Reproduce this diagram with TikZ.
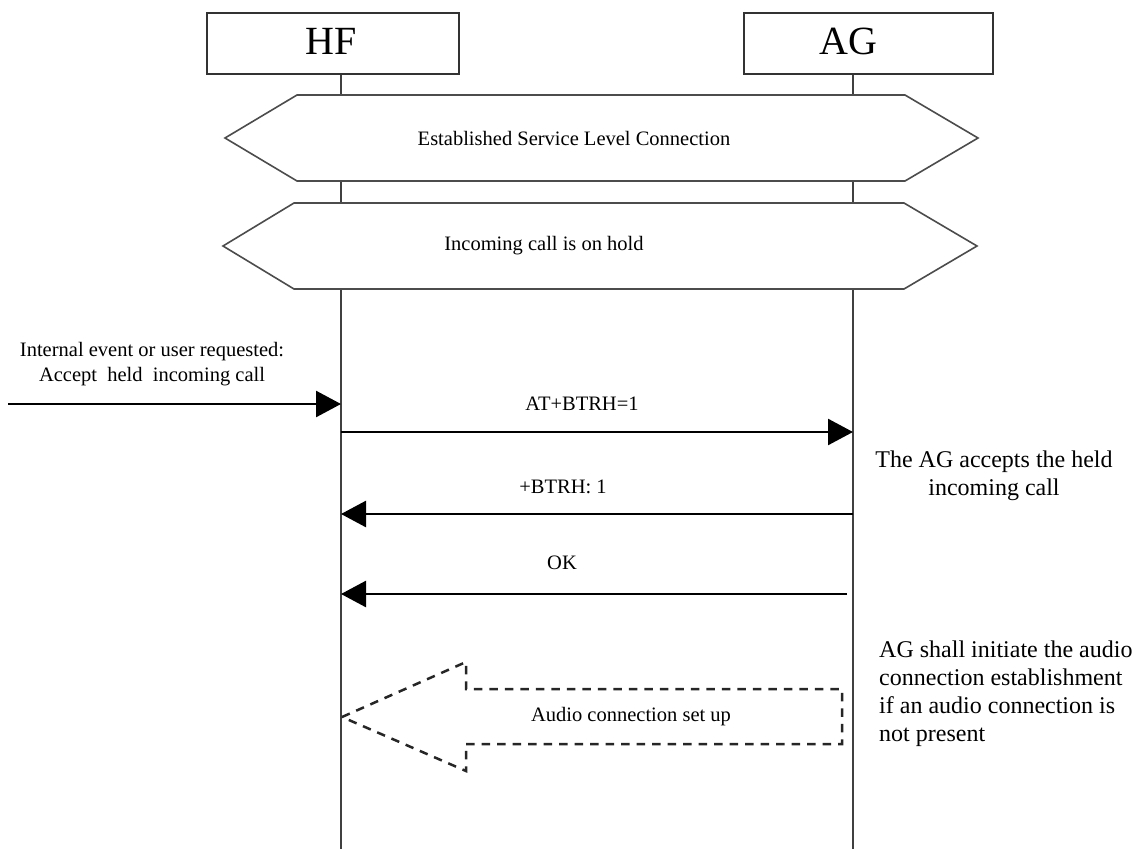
\documentclass[tikz,border=0pt]{standalone}
\usepackage{fontspec}
\setmainfont{Liberation Serif}
\usetikzlibrary{arrows.meta}
\begin{document}
\begin{tikzpicture}[x=1pt,y=-1pt,
  entity/.style={draw=black!80, line width=2pt, fill=white, inner sep=0pt},
  lifeline/.style={draw=black!75, line width=1.6pt},
  hexa/.style={draw=black!70, line width=1.6pt, fill=white, line join=miter},
  msg/.style={draw=black, line width=2.6pt, -{Triangle[length=25pt,width=26pt]}},
  lbl/.style={font=\fontsize{20.5}{25}\selectfont, inner sep=0pt},
  note/.style={font=\fontsize{24}{28}\selectfont, inner sep=0pt},
  titletext/.style={font=\fontsize{40}{48}\selectfont, inner sep=0pt},
  audio/.style={draw=black!85, line width=2.5pt, dash pattern=on 8.5pt off 7pt, line join=miter}
]
\useasboundingbox (0,0) rectangle (1138,849);

% entities
\node[entity, minimum width=252pt, minimum height=61pt] (hfbox) at (333,43.5) {};
\node[entity, minimum width=249pt, minimum height=61pt] (agbox) at (868.5,43.5) {};
\node[titletext] (hf) at (331,41) {HF};
\node[titletext] (ag) at (848,41) {AG};

% lifelines
\coordinate (hfend) at (341,849);
\coordinate (agend) at (853,849);
\draw[lifeline] (hfbox.south -| hfend) -- (hfend);
\draw[lifeline] (agbox.south -| agend) -- (agend);

% hexagons
\draw[hexa] (225,138) -- (297,95) -- (905,95) -- (978,138) -- (905,181) -- (297,181) -- cycle;
\node[lbl] (slc) at (574,138) {Established Service Level Connection};
\draw[hexa] (223,246) -- (294,203) -- (904,203) -- (977,246) -- (904,289) -- (294,289) -- cycle;
\node[lbl] (hold) at (544,246) {Incoming call is on hold};

% internal event
\node[lbl, align=center] (ev) at (152,364.5) {Internal event or user requested:\\Accept~ held~ incoming call};
\coordinate (src) at (8,404);
\coordinate (hf0) at (hfend |- src);
\draw[msg] (src) -- (hf0);

% messages
\coordinate (hf1) at (341,432);
\coordinate (ag1) at (853,432);
\draw[msg] (hf1) -- (ag1);
\node[lbl] (m1) at (582,404) {AT+BTRH=1};

\coordinate (ag2) at (853,514);
\coordinate (hf2) at (341,514);
\draw[msg] (ag2) -- (hf2);
\node[lbl] (m2) at (563,487) {+BTRH: 1};

\coordinate (ag3) at (847,594);
\coordinate (hf3) at (341,594);
\draw[msg] (ag3) -- (hf3);
\node[lbl] (m3) at (562,563) {OK};

% notes
\node[note, align=center] (n1) at (994,475.5) {The AG accepts the held\\incoming call};
\node[note, align=left, anchor=west] (n2) at (879,694) {AG shall initiate the audio\\connection establishment\\if an audio connection is\\not present};

% audio connection arrow
\draw[audio] (342,717) -- (466,662) -- (466,689) -- (842,689) -- (842,744) -- (466,744) -- (466,771) -- cycle;
\node[lbl] (audio) at (631,717) {Audio connection set up};
\end{tikzpicture}
\end{document}
